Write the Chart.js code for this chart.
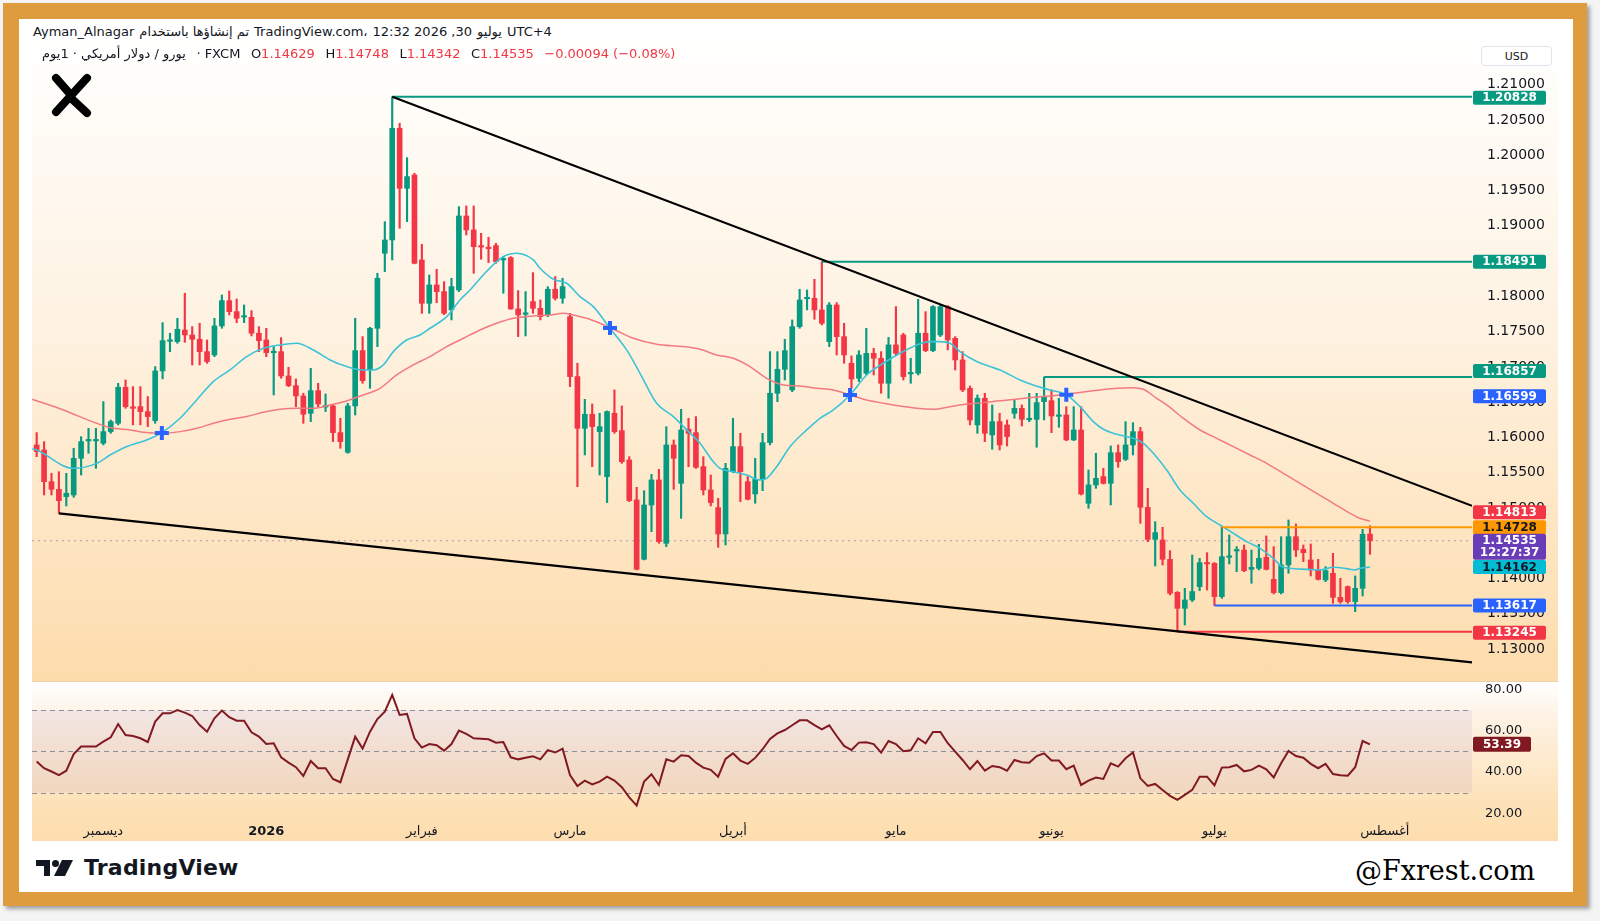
<!DOCTYPE html>
<html>
<head>
<meta charset="utf-8">
<script src="https://cdn.jsdelivr.net/npm/chart.js@4.4.1/dist/chart.umd.min.js"></script>
<style>
  html, body { margin: 0; padding: 0; width: 1600px; height: 921px; overflow: hidden; background: #f4f4f4; }
  body { position: relative; font-family: 'DejaVu Sans', sans-serif; }
  #frame { position: absolute; left: 3px; top: 3px; width: 1584px; height: 903px; background: #DF9C3F; box-shadow: 3px 3px 4px rgba(0,0,0,0.35); }
  #paper { position: absolute; left: 19px; top: 19px; width: 1554px; height: 873px; background: #fff; }
  #pane1 { position: absolute; left: 32px; top: 42px; width: 1526px; height: 639px; background: linear-gradient(#FFFFFE, #FEF2E1 45%, #FDDCAC); }
  #pane2 { position: absolute; left: 32px; top: 681px; width: 1526px; height: 160px; background: linear-gradient(#FFFFFF, #FEF3E6 20%, #FDE2B8 75%, #FDDDAE); border-top: 1px solid rgba(0,0,0,0.05); box-sizing: border-box; }
  canvas { position: absolute; left: 32px; }
  #main { top: 42px; }
  #rsi { top: 681px; }
  .hdr { position: absolute; display: flex; align-items: center; white-space: nowrap; color: #131722; font-size: 13px; }
  #hdr1 { left: 33px; top: 24px; gap: 5px; }
  #hdr2 { left: 42px; top: 46px; gap: 10.5px; }
  .red { color: #F23645; }
  #usd { position: absolute; left: 1481px; top: 46px; width: 71px; height: 20px; border: 1px solid #E0E3EB; border-radius: 4px; background: #fff; box-sizing: border-box; font: 11px 'DejaVu Sans', sans-serif; color: #131722; display: flex; align-items: center; justify-content: center; }
  #logo { position: absolute; left: 48px; top: 72px; }
  #tv { position: absolute; left: 36px; top: 855px; display: flex; align-items: center; gap: 10px; }
  #tv span { font: bold 22px 'DejaVu Sans', sans-serif; color: #131722; letter-spacing: 0.2px; }
  #fx { position: absolute; left: 1355px; top: 855px; font: 27px 'DejaVu Serif', serif; color: #000; }
</style>
</head>
<body>
<div id="frame"></div>
<div id="paper"></div>
<div id="pane1"></div>
<div id="pane2"></div>
<canvas id="main" width="1526" height="639"></canvas>
<canvas id="rsi" width="1526" height="160"></canvas>

<div id="hdr1" class="hdr">
  <span>Ayman_Alnagar</span><span dir="rtl">تم إنشاؤها باستخدام</span><span>TradingView.com،</span><span>12:32 2026 ,30</span><span dir="rtl">يوليو</span><span>UTC+4</span>
</div>
<div id="hdr2" class="hdr">
  <span dir="rtl">يورو / دولار أمريكي · 1يوم</span><span>· FXCM</span>
  <span>O<span class="red">1.14629</span></span>
  <span>H<span class="red">1.14748</span></span>
  <span>L<span class="red">1.14342</span></span>
  <span>C<span class="red">1.14535</span></span>
  <span class="red">−0.00094 (−0.08%)</span>
</div>
<div id="usd">USD</div>

<svg id="logo" width="48" height="50" viewBox="0 0 48 50">
  <g stroke="#000" stroke-width="8" stroke-linecap="round" fill="none">
    <path d="M8 6 L22 22"/>
    <path d="M39 6 L8 40"/>
    <path d="M24 27 L39 41"/>
  </g>
</svg>

<div id="tv">
  <svg width="38" height="16" viewBox="0 0 38 16">
    <path d="M0 0 H14 V16 H8 V6 H0 Z" fill="#131722"/>
    <circle cx="19.5" cy="3.5" r="3.5" fill="#131722"/>
    <path d="M26 0 H37 L29 16 H18 Z" fill="#131722"/>
  </svg>
  <span>TradingView</span>
</div>
<div id="fx">@Fxrest.com</div>

<script>
// daily EUR/USD candles, 18 Nov 2025 .. 30 Jul 2026
const OPEN = [
  1.15893,1.15822,1.15373,1.15264,1.15161,1.15184,1.15704,1.15950,1.15950,1.15917,
  1.16082,1.16200,1.16711,1.16432,1.16436,1.16366,1.16238,1.16942,1.17362,1.17358,
  1.17523,1.17452,1.17391,1.17216,1.17169,1.17580,1.17939,1.17783,1.17705,1.17703,
  1.17476,1.17381,1.17200,1.17216,1.16871,1.16734,1.16588,1.16342,1.16663,1.16430,
  1.16446,1.16068,1.15789,1.16446,1.17230,1.16956,1.17547,1.18610,1.18799,1.20382,
  1.19531,1.19720,1.18515,1.17901,1.18161,1.18067,1.17807,1.18090,1.19139,1.18941,
  1.18710,1.18685,1.18719,1.18515,1.18549,1.17821,1.17745,1.17925,1.17830,1.17736,
  1.18100,1.17972,1.17712,1.16862,1.16129,1.16328,1.16082,1.15444,1.16342,1.16096,
  1.15680,1.15113,1.14272,1.15042,1.15397,1.14499,1.15893,1.15349,1.16115,1.16068,
  1.15585,1.15255,1.15005,1.14631,1.15514,1.15869,1.15373,1.15198,1.15406,1.15926,
  1.16626,1.16966,1.16673,1.17570,1.17965,1.17972,1.17807,1.17358,1.17877,1.17429,
  1.17051,1.16838,1.16909,1.17192,1.17122,1.16767,1.17311,1.17452,1.16900,1.16909,
  1.17476,1.17230,1.17452,1.17854,1.17405,1.17098,1.16696,1.16177,1.16555,1.16035,
  1.16224,1.16176,1.16341,1.16412,1.16250,1.16256,1.16507,1.16521,1.16298,1.16318,
  1.15964,1.16105,1.15066,1.15326,1.15444,1.15349,1.15784,1.15689,1.15893,1.16082,
  1.15009,1.14555,1.14546,1.14272,1.13804,1.13577,1.13696,1.13885,1.14225,1.14215,
  1.13743,1.14300,1.14390,1.14404,1.14130,1.14144,1.14300,1.13988,1.13800,1.14192,
  1.14593,1.14414,1.14262,1.14121,1.13979,1.14074,1.13733,1.13885,1.13672,1.13861,
  1.14629
];
const HIGH = [
  1.16068,1.15940,1.15490,1.15514,1.15490,1.15846,1.16011,1.16129,1.16129,1.16507,
  1.16247,1.16767,1.16814,1.16720,1.16720,1.16578,1.17004,1.17627,1.17476,1.17689,
  1.18043,1.17570,1.17618,1.17381,1.17689,1.18019,1.18076,1.17963,1.17877,1.17797,
  1.17570,1.17547,1.17287,1.17414,1.16994,1.16829,1.16626,1.16980,1.16767,1.16616,
  1.16460,1.16271,1.16484,1.17689,1.17429,1.17561,1.18327,1.19059,1.20828,1.20453,
  1.19966,1.19744,1.18738,1.18303,1.18383,1.18208,1.18256,1.19271,1.19281,1.19281,
  1.18893,1.18837,1.18752,1.18563,1.18563,1.18081,1.18067,1.18336,1.17948,1.18137,
  1.18279,1.18256,1.17759,1.17051,1.16540,1.16474,1.16342,1.16375,1.16673,1.16446,
  1.15727,1.15293,1.15245,1.15476,1.15547,1.16153,1.15964,1.16399,1.16271,1.16295,
  1.15727,1.15467,1.15137,1.15632,1.16271,1.16058,1.15444,1.15704,1.16058,1.17216,
  1.17216,1.17391,1.17665,1.18100,1.18090,1.18241,1.18491,1.17911,1.17911,1.17618,
  1.17155,1.17230,1.17547,1.17263,1.17216,1.17419,1.17854,1.17476,1.17122,1.17958,
  1.17783,1.17868,1.17877,1.17868,1.17429,1.17216,1.16729,1.16602,1.16626,1.16460,
  1.16342,1.16247,1.16530,1.16460,1.16625,1.16625,1.16857,1.16672,1.16554,1.16436,
  1.16436,1.16436,1.15538,1.15775,1.15562,1.15879,1.15893,1.16223,1.16209,1.16143,
  1.15278,1.14806,1.14726,1.14395,1.13814,1.13861,1.14333,1.14286,1.14366,1.14225,
  1.14728,1.14617,1.14452,1.14475,1.14404,1.14485,1.14603,1.14452,1.14593,1.14830,
  1.14773,1.14475,1.14489,1.14272,1.14168,1.14357,1.14003,1.13894,1.14036,1.14697,
  1.14748
];
const LOW = [
  1.15727,1.15184,1.15184,1.14924,1.15028,1.15150,1.15467,1.15775,1.15562,1.15893,
  1.16058,1.16177,1.16413,1.16177,1.16177,1.16153,1.16200,1.16829,1.17216,1.17334,
  1.17348,1.17027,1.17027,1.17051,1.17145,1.17547,1.17736,1.17627,1.17627,1.17438,
  1.17216,1.17145,1.16602,1.16838,1.16720,1.16436,1.16200,1.16224,1.16436,1.16366,
  1.15940,1.15846,1.15775,1.16318,1.16767,1.16696,1.17287,1.18350,1.18515,1.18964,
  1.19059,1.18460,1.17759,1.17759,1.17910,1.17740,1.17665,1.18067,1.18870,1.18327,
  1.18525,1.18478,1.18468,1.18043,1.17816,1.17429,1.17438,1.17759,1.17665,1.17712,
  1.17948,1.17901,1.16720,1.15302,1.15751,1.15585,1.15467,1.15076,1.16058,1.15632,
  1.15090,1.14121,1.14263,1.14664,1.14499,1.14452,1.15264,1.14853,1.15585,1.15562,
  1.15184,1.15028,1.14442,1.14475,1.15500,1.15090,1.15113,1.15066,1.15245,1.15893,
  1.16507,1.16814,1.16649,1.17547,1.17807,1.17675,1.17594,1.17287,1.17169,1.17051,
  1.16696,1.16791,1.16885,1.16885,1.16626,1.16555,1.17169,1.16814,1.16767,1.16885,
  1.17216,1.17216,1.17429,1.17240,1.16956,1.16649,1.16177,1.16058,1.15940,1.15832,
  1.15822,1.15878,1.16271,1.16162,1.16223,1.15860,1.16247,1.16067,1.16143,1.15954,
  1.15954,1.15184,1.14995,1.15278,1.15340,1.15042,1.15576,1.15671,1.15751,1.14782,
  1.14522,1.14177,1.14192,1.13766,1.13245,1.13341,1.13672,1.13828,1.13837,1.13617,
  1.13719,1.14206,1.14097,1.14097,1.13932,1.14121,1.14121,1.13781,1.13781,1.14074,
  1.14310,1.14239,1.14036,1.13979,1.13955,1.13648,1.13648,1.13648,1.13530,1.13752,
  1.14342
];
const CLOSE = [
  1.15799,1.15373,1.15264,1.15104,1.15208,1.15704,1.15940,1.15960,1.15960,1.16082,
  1.16224,1.16711,1.16436,1.16412,1.16366,1.16295,1.16942,1.17372,1.17377,1.17533,
  1.17452,1.17391,1.17216,1.17075,1.17580,1.17939,1.17783,1.17689,1.17715,1.17476,
  1.17372,1.17202,1.17212,1.16871,1.16734,1.16588,1.16328,1.16663,1.16474,1.16442,
  1.16068,1.15940,1.16446,1.17230,1.16805,1.17547,1.18256,1.18799,1.20382,1.19531,
  1.19697,1.18468,1.17901,1.18161,1.18067,1.17759,1.18137,1.19139,1.18941,1.18704,
  1.18698,1.18675,1.18492,1.18530,1.17821,1.17736,1.17755,1.17830,1.17712,1.18100,
  1.17972,1.18137,1.16862,1.16129,1.16328,1.16153,1.16153,1.16366,1.16082,1.15656,
  1.15104,1.14131,1.15042,1.15397,1.14523,1.15893,1.15704,1.16106,1.16058,1.15576,
  1.15255,1.15076,1.14631,1.15562,1.15869,1.15514,1.15123,1.15406,1.15926,1.16626,
  1.16966,1.17230,1.17570,1.17948,1.17980,1.17807,1.17618,1.17877,1.17429,1.17169,
  1.16829,1.17169,1.17192,1.17122,1.16767,1.17311,1.17192,1.16862,1.16915,1.17476,
  1.17230,1.17854,1.17854,1.17381,1.17098,1.16673,1.16247,1.16555,1.16058,1.16224,
  1.15893,1.16011,1.16412,1.16256,1.16262,1.16493,1.16578,1.16304,1.16310,1.15964,
  1.16105,1.15198,1.15326,1.15420,1.15349,1.15784,1.15656,1.15893,1.16082,1.15009,
  1.14555,1.14650,1.14272,1.13790,1.13577,1.13696,1.13814,1.14225,1.14206,1.13743,
  1.14310,1.14315,1.14400,1.14111,1.14158,1.14286,1.14130,1.13800,1.14192,1.14593,
  1.14404,1.14366,1.14121,1.13988,1.14111,1.13733,1.13672,1.13672,1.13861,1.14626,
  1.14535
];

// moving averages: [bar index, price]
const FAST_MA = [
  [-0.6,1.15840],[0,1.15822],[4.95,1.15562],[8.1,1.15632],[9.9,1.15751],[12.1,1.15869],[14.85,1.15964],
  [16.9,1.16068],[19.35,1.16271],[21.6,1.16531],[23.85,1.16791],[26.1,1.16956],[28.35,1.17145],
  [30.6,1.17263],[32.85,1.17311],[35.1,1.17334],[37.35,1.17240],[39.6,1.17098],[41.85,1.17004],
  [44.1,1.16956],[45.45,1.16956],[46.8,1.17027],[48.15,1.17216],[49.95,1.17381],[51.75,1.17452],
  [53.1,1.17547],[55.35,1.17712],[57.15,1.17948],[58.5,1.18090],[60.3,1.18303],[62.1,1.18492],
  [63.45,1.18586],[64.8,1.18610],[67.05,1.18515],[67.95,1.18397],[69.75,1.18241],[71.55,1.18185],
  [73.35,1.17996],[75.15,1.17854],[77.4,1.17547],[79.65,1.17240],[81.45,1.16909],[83.7,1.16484],
  [85.95,1.16295],[87.75,1.16106],[89.55,1.15917],[91.35,1.15656],[92.25,1.15562],[94.05,1.15514],
  [95.85,1.15467],[97.65,1.15397],[98.55,1.15420],[99.9,1.15585],[101.7,1.15869],[103.95,1.16106],
  [105.75,1.16271],[107.55,1.16389],[109.8,1.16602],[112.05,1.16885],[114.3,1.17051],[116.55,1.17192],
  [118.8,1.17311],[120.6,1.17358],[121.95,1.17358],[123.3,1.17334],[124.65,1.17216],[126.9,1.17075],
  [128.7,1.17004],[130.05,1.16956],[132.75,1.16814],[134.55,1.16743],[136.8,1.16672],[139.05,1.16601],
  [140.85,1.16436],[142.65,1.16223],[144,1.16115],[145.8,1.16044],[148.05,1.15987],[149.4,1.15916],
  [150.75,1.15775],[152.55,1.15538],[154.35,1.15255],[156.15,1.15066],[157.95,1.14877],[159.75,1.14759],
  [161.55,1.14641],[163.35,1.14522],[165.15,1.14428],[166.95,1.14286],[168.1,1.14168],[169.2,1.14145],
  [171.45,1.14130],[173.25,1.14121],[175.05,1.14159],[176.85,1.14140],[178,1.14121],[178.65,1.14145],
  [180,1.14162]
];
const SLOW_MA = [
  [-0.6,1.16540],[3.6,1.16389],[8.1,1.16200],[10.35,1.16129],[12.6,1.16106],[14.85,1.16068],
  [16.9,1.16058],[19.35,1.16082],[21.6,1.16129],[23.85,1.16200],[26.1,1.16257],[28.35,1.16295],
  [30.6,1.16356],[32.85,1.16399],[35.1,1.16413],[37.35,1.16413],[39.6,1.16460],[41.85,1.16517],
  [44.1,1.16602],[46.35,1.16696],[48.6,1.16885],[50.85,1.17027],[53.1,1.17145],[55.35,1.17287],
  [57.6,1.17405],[59.85,1.17523],[62.1,1.17618],[64.35,1.17689],[67.05,1.17722],[69.3,1.17736],
  [71.1,1.17759],[72.45,1.17736],[74.25,1.17689],[76.05,1.17618],[78.1,1.17523],[80.55,1.17405],
  [83.7,1.17320],[87.3,1.17287],[89.55,1.17249],[91.8,1.17169],[94.05,1.17122],[96.3,1.17004],
  [98.55,1.16838],[100.8,1.16744],[103.05,1.16729],[105.3,1.16696],[107.55,1.16673],[109.8,1.16602],
  [112.05,1.16531],[114.3,1.16484],[116.55,1.16446],[118.8,1.16413],[121.05,1.16399],[123.3,1.16436],
  [125.55,1.16474],[127.8,1.16493],[130.05,1.16520],[132.3,1.16540],[134.55,1.16568],[136.8,1.16587],
  [139.05,1.16611],[141.3,1.16644],[143.55,1.16672],[145.8,1.16696],[148.05,1.16705],[149.4,1.16682],
  [151.2,1.16554],[152.55,1.16460],[154.8,1.16271],[157.05,1.16105],[159.3,1.15987],[161.55,1.15869],
  [163.8,1.15751],[166.05,1.15633],[168.3,1.15491],[170.55,1.15349],[172.8,1.15208],[175.05,1.15066],
  [177.3,1.14924],[178.65,1.14853],[180,1.14813]
];
const CROSS_X = [16.9, 77.4, 109.8, 139.0];
const CROSS_Y = [1.16063, 1.17550, 1.16602, 1.16605];

// drawings
const UPPER_LINE = [[48, 1.20828], [193.77, 1.15030]];
const LOWER_LINE = [[3, 1.14924], [193.77, 1.12812]];
const LEVELS = [1.20828, 1.18491, 1.16857, 1.14728, 1.13617, 1.13245];
const LEVEL_START = [48, 106, 136, 160, 159, 154];
const LAST_PRICE = 1.14535;

// right-axis tags
const TAG_VALUES = [1.20828, 1.18491, 1.16857, 1.16599, 1.14813, 1.14728, 1.14535, 1.14162, 1.13617, 1.13245];

// RSI pane
const RSI = [
  45.0,41.8,40.2,38.5,40.6,48.7,52.3,52.3,52.3,54.7,
  56.8,63.2,57.9,57.4,56.3,54.5,64.4,68.4,68.4,70.0,
  68.7,67.1,62.7,59.5,66.0,69.7,66.5,64.8,64.8,59.2,
  57.1,53.5,53.9,47.1,44.5,42.3,38.1,45.3,41.8,41.8,
  36.6,35.0,46.1,57.1,51.3,59.5,65.6,69.2,77.3,67.6,
  68.1,56.3,51.8,53.5,52.9,50.3,53.5,60.0,58.4,56.3,
  56.1,55.8,54.2,54.5,47.1,46.1,46.9,47.6,46.1,50.6,
  49.4,51.3,38.5,33.2,35.8,34.0,35.3,37.7,35.8,32.6,
  27.7,23.7,35.3,38.9,33.7,46.1,45.0,48.1,47.7,44.5,
  42.1,41.0,37.7,46.3,49.0,45.5,43.9,46.8,51.0,56.0,
  58.7,60.3,62.6,65.0,65.0,62.7,60.6,62.6,57.4,52.6,
  50.6,54.2,54.4,53.5,49.4,55.0,53.5,50.0,50.5,56.3,
  53.9,59.4,59.4,53.9,49.8,45.8,41.3,45.3,40.6,42.9,
  42.3,40.6,45.8,44.7,44.5,47.7,49.0,45.5,45.5,41.3,
  43.1,33.7,35.8,37.3,36.6,44.2,42.6,46.6,49.4,36.9,
  33.2,34.2,31.3,28.4,26.5,28.9,31.3,37.7,37.7,33.5,
  42.1,42.3,43.4,40.3,41.0,43.1,41.3,37.3,44.2,50.2,
  47.7,46.9,43.9,41.8,43.9,39.0,38.4,38.2,42.3,55.0,
  53.39
];
const RSI_TICKS = [20, 40, 60, 80];
const RSI_BANDS = [70, 50, 30];

// time axis
const MONTH_POS = [9, 31, 52, 72, 94, 116, 137, 159, 182];
const MONTH_LABELS = ['ديسمبر', '2026', 'فبراير', 'مارس', 'أبريل', 'مايو', 'يونيو', 'يوليو', 'أغسطس'];

const UP = '#089981', DOWN = '#F23645';
const FONT = "'DejaVu Sans', sans-serif";
const XMIN = -0.63, XMAX = 193.77;

function toPoints(pairs) {
  return pairs.map(function(p) { return { x: p[0], y: p[1] }; });
}

function roundRect(ctx, x, y, w, h, r) {
  ctx.beginPath();
  ctx.moveTo(x + r, y);
  ctx.arcTo(x + w, y, x + w, y + h, r);
  ctx.arcTo(x + w, y + h, x, y + h, r);
  ctx.arcTo(x, y + h, x, y, r);
  ctx.arcTo(x, y, x + w, y, r);
  ctx.closePath();
}

// keep the plot area flush with the canvas edges
function noPadding(s) {
  s.paddingTop = 0; s.paddingBottom = 0; s.paddingLeft = 0; s.paddingRight = 0;
}

// boxes on the price axis, drawn last
const priceTags = {
  id: 'priceTags',
  afterDraw: function(chart) {
    const ctx = chart.ctx;
    const area = chart.chartArea;
    const y = chart.scales.y;
    const styles = [
      { bg: UP, fg: '#fff', dy: 1 },
      { bg: UP, fg: '#fff', dy: 0 },
      { bg: UP, fg: '#fff', dy: -6 },
      { bg: '#2962FF', fg: '#fff', dy: 1 },
      { bg: DOWN, fg: '#fff', dy: -9 },
      { bg: '#FF9800', fg: '#131722', dy: 0 },
      { bg: '#6A3DB8', fg: '#fff', dy: 6, sub: '12:27:37' },
      { bg: '#00BCD4', fg: '#131722', dy: 0 },
      { bg: '#2962FF', fg: '#fff', dy: 0 },
      { bg: DOWN, fg: '#fff', dy: 1 }
    ];
    ctx.save();
    ctx.textAlign = 'center';
    ctx.textBaseline = 'middle';
    ctx.font = 'bold 12px ' + FONT;
    TAG_VALUES.forEach(function(v, k) {
      const s = styles[k];
      const cy = y.getPixelForValue(v) + s.dy;
      const h = s.sub ? 26 : 14;
      const x0 = area.right + 1;
      ctx.fillStyle = s.bg;
      roundRect(ctx, x0, cy - h / 2, 73, h, 2);
      ctx.fill();
      ctx.fillStyle = s.fg;
      if (s.sub) {
        ctx.fillText(v.toFixed(5), x0 + 36.5, cy - 6);
        ctx.fillText(s.sub, x0 + 36.5, cy + 6.5);
      } else {
        ctx.fillText(v.toFixed(5), x0 + 36.5, cy + 0.5);
      }
    });
    ctx.restore();
  }
};

const idx = OPEN.map(function(_, i) { return i; });
const candleColors = idx.map(function(i) { return CLOSE[i] >= OPEN[i] ? UP : DOWN; });
const levelColors = [UP, UP, UP, '#FF9800', '#2962FF', DOWN];

const datasets = [
  {
    type: 'line', data: [{ x: XMIN, y: LAST_PRICE }, { x: XMAX, y: LAST_PRICE }],
    borderColor: 'rgba(120, 90, 170, 0.55)', borderWidth: 1, borderDash: [2, 4], pointRadius: 0, order: 20
  },
  {
    type: 'bar', data: idx.map(function(i) { return { x: i, y: [LOW[i], HIGH[i]] }; }),
    backgroundColor: candleColors, barThickness: 1.5, grouped: false, order: 11
  },
  {
    type: 'bar', data: idx.map(function(i) { return { x: i, y: [OPEN[i], CLOSE[i]] }; }),
    backgroundColor: candleColors, barThickness: 5, minBarLength: 1.5, grouped: false, order: 10
  },
  {
    type: 'line', data: toPoints(SLOW_MA), borderColor: '#F27A80', borderWidth: 1.5,
    pointRadius: 0, cubicInterpolationMode: 'monotone', order: 6
  },
  {
    type: 'line', data: toPoints(FAST_MA), borderColor: '#3CC3D8', borderWidth: 1.6,
    pointRadius: 0, cubicInterpolationMode: 'monotone', order: 5
  }
];
LEVELS.forEach(function(v, k) {
  datasets.push({
    type: 'line', data: [{ x: LEVEL_START[k], y: v }, { x: XMAX, y: v }],
    borderColor: levelColors[k], borderWidth: 2, pointRadius: 0, order: 4
  });
});
[UPPER_LINE, LOWER_LINE].forEach(function(line) {
  datasets.push({
    type: 'line', data: toPoints(line), borderColor: '#000', borderWidth: 2.2, pointRadius: 0, order: 3
  });
});
datasets.push({
  type: 'line', showLine: false,
  data: CROSS_X.map(function(x, k) { return { x: x, y: CROSS_Y[k] }; }),
  pointStyle: 'cross', pointRadius: 7, pointBorderWidth: 4, pointBorderColor: '#2962FF', order: 1
});

new Chart(document.getElementById('main'), {
  type: 'bar',
  data: { datasets: datasets },
  options: {
    animation: false, responsive: false, devicePixelRatio: 1, events: [],
    layout: { padding: 0, autoPadding: false },
    plugins: { legend: { display: false }, tooltip: { enabled: false } },
    scales: {
      x: { type: 'linear', min: XMIN, max: XMAX, offset: false, display: false },
      y: {
        position: 'right', min: 1.12547, max: 1.21605,
        grid: { display: false, drawTicks: false }, border: { display: false },
        afterFit: function(s) { s.width = 86; noPadding(s); },
        ticks: {
          stepSize: 0.005, includeBounds: false, padding: 15, color: '#131722',
          font: { family: FONT, size: 14 },
          callback: function(v) { return v > 1.2125 ? '' : v.toFixed(5); }
        }
      }
    }
  },
  plugins: [priceTags]
});

// RSI band, guide lines and value tag
const rsiDecor = {
  id: 'rsiDecor',
  beforeDatasetsDraw: function(chart) {
    const ctx = chart.ctx;
    const a = chart.chartArea;
    const y = chart.scales.y;
    const top = y.getPixelForValue(RSI_BANDS[0]);
    const bottom = y.getPixelForValue(RSI_BANDS[2]);
    ctx.save();
    ctx.fillStyle = 'rgba(126, 87, 194, 0.09)';
    ctx.fillRect(a.left, top, a.right - a.left, bottom - top);
    ctx.strokeStyle = '#8C8F99';
    ctx.lineWidth = 1;
    ctx.setLineDash([5, 4]);
    RSI_BANDS.forEach(function(v) {
      const yy = Math.round(y.getPixelForValue(v)) + 0.5;
      ctx.beginPath();
      ctx.moveTo(a.left, yy);
      ctx.lineTo(a.right, yy);
      ctx.stroke();
    });
    ctx.restore();
  },
  afterDraw: function(chart) {
    const ctx = chart.ctx;
    const a = chart.chartArea;
    const last = RSI[RSI.length - 1];
    const cy = chart.scales.y.getPixelForValue(last);
    ctx.save();
    ctx.fillStyle = '#801922';
    roundRect(ctx, a.right + 1, cy - 7.5, 58, 15, 2);
    ctx.fill();
    ctx.fillStyle = '#fff';
    ctx.font = 'bold 12px ' + FONT;
    ctx.textAlign = 'center';
    ctx.textBaseline = 'middle';
    ctx.fillText(last.toFixed(2), a.right + 30, cy + 0.5);
    ctx.restore();
  }
};

new Chart(document.getElementById('rsi'), {
  type: 'line',
  data: {
    datasets: [{
      data: RSI.map(function(v, i) { return { x: i, y: v }; }),
      borderColor: '#801922', borderWidth: 2, pointRadius: 0, tension: 0
    }]
  },
  options: {
    animation: false, responsive: false, devicePixelRatio: 1, events: [],
    layout: { padding: 0, autoPadding: false },
    plugins: { legend: { display: false }, tooltip: { enabled: false } },
    scales: {
      x: {
        type: 'linear', min: XMIN, max: XMAX,
        grid: { display: false, drawTicks: false }, border: { display: false },
        afterBuildTicks: function(s) { s.ticks = MONTH_POS.map(function(v) { return { value: v }; }); },
        afterFit: function(s) { s.height = 21; noPadding(s); },
        ticks: {
          autoSkip: false, maxRotation: 0, padding: 4, color: '#131722',
          font: function(c) { return { family: FONT, size: 13, weight: MONTH_POS[c.index] === 31 ? 'bold' : 'normal' }; },
          callback: function(v, k) { return MONTH_LABELS[k]; }
        }
      },
      y: {
        position: 'right', min: 16.73, max: 84.04,
        grid: { display: false, drawTicks: false }, border: { display: false },
        afterBuildTicks: function(s) { s.ticks = RSI_TICKS.map(function(v) { return { value: v }; }); },
        afterFit: function(s) { s.width = 86; noPadding(s); },
        ticks: {
          padding: 13, color: '#131722', font: { family: FONT, size: 13 },
          callback: function(v) { return v.toFixed(2); }
        }
      }
    }
  },
  plugins: [rsiDecor]
});
</script>
</body>
</html>
